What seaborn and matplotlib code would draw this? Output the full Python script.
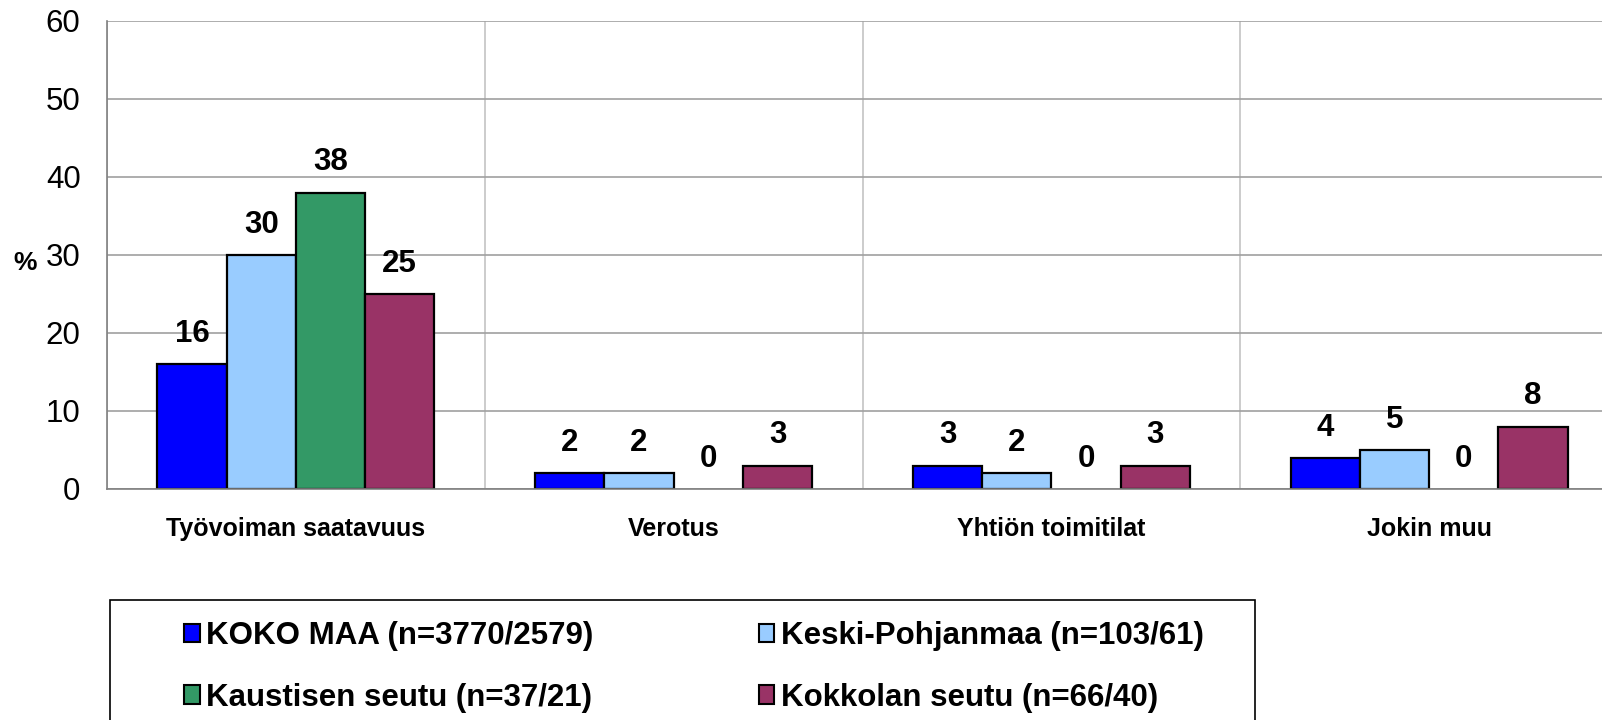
import pandas as pd
import seaborn as sb
import matplotlib.pyplot as plt
from matplotlib.patches import Patch, Rectangle

# Chart data
categories = ["Työvoiman saatavuus", "Verotus", "Yhtiön toimitilat", "Jokin muu"]
series = ["KOKO MAA (n=3770/2579)", "Keski-Pohjanmaa (n=103/61)",
          "Kaustisen seutu (n=37/21)", "Kokkolan seutu (n=66/40)"]
koko_maa = [16, 2, 3, 4]
keski_pohjanmaa = [30, 2, 2, 5]
kaustinen = [38, 0, 0, 0]
kokkola = [25, 3, 3, 8]
colors = ["#0000FF", "#99CCFF", "#339966", "#993366"]

rows = []
for name, vals in zip(series, [koko_maa, keski_pohjanmaa, kaustinen, kokkola]):
    for cat, v in zip(categories, vals):
        rows.append({"category": cat, "series": name, "value": v})
data = pd.DataFrame(rows)

sb.set_style("white")
plt.rcParams['font.family'] = ['Liberation Sans', 'DejaVu Sans']
plt.rcParams['text.color'] = 'black'
plt.rcParams['axes.labelcolor'] = 'black'

fig = plt.figure(figsize=(16.02, 7.2), dpi=100)
ax = fig.add_axes([107 / 1602, 1 - 489 / 720, (1618 - 107) / 1602, (489 - 21) / 720])

sb.barplot(data=data, x="category", y="value", hue="series", order=categories,
           hue_order=series, palette=colors, saturation=1, width=0.733,
           edgecolor="black", linewidth=1.6, errorbar=None, legend=False, ax=ax)

# hide outline of empty bars
for p in ax.patches:
    if p.get_height() == 0:
        p.set_linewidth(0)

for c in ax.containers:
    ax.bar_label(c, fmt="%g", padding=11, fontsize=22.5, fontweight="bold", color="black")

ax.set_xlim(-0.5, 3.5)
ax.set_ylim(0, 60)
ax.set_yticks(range(0, 61, 10))
ax.set_xticks([-0.5, 0.5, 1.5, 2.5, 3.5], minor=True)

ax.set_axisbelow(True)
ax.grid(which="major", axis="y", color="#A0A0A0", linewidth=1.2)
ax.grid(which="minor", axis="x", color="#C4C4C4", linewidth=1.2)

ax.tick_params(axis="x", which="major", length=0, pad=20, labelsize=18, labelcolor="black")
ax.tick_params(axis="x", which="minor", length=8, width=1.2, color="#808080", direction="out")
ax.tick_params(axis="y", length=8, width=1.2, color="#808080", pad=11, labelsize=22.5,
               labelcolor="black")
for lbl in ax.get_xticklabels():
    lbl.set_fontweight("bold")

for s in ["top", "right"]:
    ax.spines[s].set_visible(False)
for s in ["left", "bottom"]:
    ax.spines[s].set_color("#808080")
    ax.spines[s].set_linewidth(1.2)

ax.set_xlabel("")
ax.set_ylabel("%", rotation=0, fontsize=19, fontweight="bold", ha="center", va="center")
ax.yaxis.set_label_coords(-0.0543, 0.483)

# legend box
fig.add_artist(Rectangle((110 / 1602, -0.05), (1255 - 110) / 1602, (720 - 600) / 720 + 0.05,
                         transform=fig.transFigure, fill=False, edgecolor="black", linewidth=1.2))

handles = [Patch(facecolor=col, edgecolor="black", linewidth=1.5) for col in colors]
order = [0, 2, 1, 3]
fig.legend([handles[i] for i in order], [series[i] for i in order],
           loc="upper left", bbox_to_anchor=(184 / 1602, 1 - 621 / 720), ncol=2,
           frameon=False, borderpad=0, borderaxespad=0,
           prop={"size": 22.5, "weight": "bold"}, handlelength=0.5, handleheight=0.55,
           handletextpad=0.2, columnspacing=5.3, labelspacing=1.02)

fig.savefig("out.png", dpi=100)
plt.close()
